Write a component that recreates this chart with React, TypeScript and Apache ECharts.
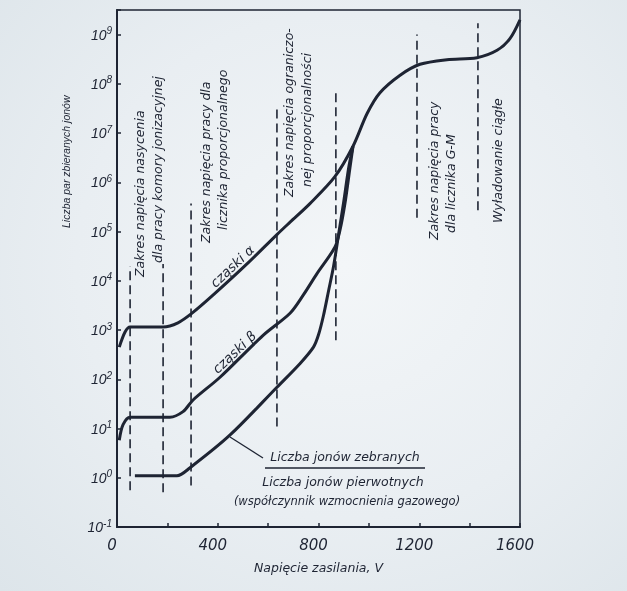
import React, { useEffect, useRef } from "react";
import * as echarts from "echarts";

const alphaVoltage = [9, 32, 52, 183, 242, 298, 381, 516, 635, 687, 766, 865, 937, 993, 1044, 1124, 1203, 1310, 1429, 1509, 1560, 1600];
const alphaPairs = [450, 910, 1150, 1150, 1400, 2200, 5100, 22000, 87000, 1.55e5, 3.7e5, 1.3e6, 5.4e6, 2.5e7, 6.6e7, 1.5e8, 2.5e8, 3.1e8, 3.4e8, 4.8e8, 8.3e8, 2.0e9];

const betaVoltage = [9, 24, 52, 210, 262, 302, 409, 580, 687, 738, 794, 865, 885, 905, 925, 937];
const betaPairs = [5.8, 12, 17, 17, 22, 38, 110, 780, 2200, 5000, 14000, 48000, 1.05e5, 3.7e5, 2.0e6, 5.4e6];

const gainVoltage = [71, 238, 290, 449, 635, 727, 780, 800, 820, 840, 860, 880, 900, 920, 937];
const gainFactor = [1.1, 1.1, 1.6, 7.4, 69, 210, 450, 800, 2000, 6300, 20000, 89000, 4.0e5, 2.0e6, 5.4e6];

// Dashed boundaries between working regions
const boundaryVoltage = [52, 183, 294, 635, 869, 1191, 1433];
const boundaryTop = [2.0e4, 2.2e4, 3.7e5, 3.6e7, 7.2e7, 1.0e9, 1.7e9];
const boundaryBottom = [0.56, 0.51, 0.7, 11, 620, 1.9e5, 2.7e5];

// Axis ticks
const xTickLabels = [0, 400, 800, 1200, 1600];
const yExponents = [-1, 0, 1, 2, 3, 4, 5, 6, 7, 8, 9];

const INK = "#1e2433";
const FONT = '"Liberation Sans", Arial, sans-serif';
const WIDE = '"DejaVu Sans", Verdana, sans-serif';

const toLog = (xs: number[], ys: number[]) => xs.map((x, i) => [x, Math.log10(ys[i])]);

export default function App() {
  const ref = useRef<HTMLDivElement>(null);

  useEffect(() => {
    if (!ref.current) return;
    const chart = echarts.init(ref.current, undefined, { renderer: "svg" });

    const curveStyle = { color: INK, width: 3 };
    const curve = (name: string, xs: number[], ys: number[]) => ({
      name,
      type: "line",
      data: toLog(xs, ys),
      showSymbol: false,
      smooth: 0.3,
      lineStyle: curveStyle,
      z: 3,
    });

    const boundarySeries = boundaryVoltage.map((v, i) => ({
      type: "line",
      data: [
        [v, Math.log10(boundaryBottom[i])],
        [v, Math.log10(boundaryTop[i])],
      ],
      showSymbol: false,
      lineStyle: { color: INK, width: 1.6, type: [9, 5] },
      z: 2,
    }));

    const rotText = (text: string, x: number, y: number, size = 12.5, family = WIDE) => ({
      type: "text",
      x,
      y,
      rotation: Math.PI / 2,
      style: {
        text,
        fill: INK,
        fontSize: size,
        fontStyle: "italic",
        fontFamily: family,
        align: "left",
        verticalAlign: "middle",
      },
    });
    const plainText = (text: string, x: number, y: number, size = 12, rotation = 0) => ({
      type: "text",
      x,
      y,
      rotation,
      style: {
        text,
        fill: INK,
        fontSize: size,
        fontStyle: "italic",
        fontFamily: WIDE,
        align: "center",
        verticalAlign: "middle",
      },
    });

    chart.setOption({
      animation: false,
      backgroundColor: "transparent",
      grid: {
        left: 117,
        top: 10,
        right: 107,
        bottom: 64,
        show: true,
        borderColor: INK,
        borderWidth: 1.5,
        containLabel: false,
        outerBoundsMode: "none",
      },
      xAxis: {
        type: "value",
        min: 0,
        max: 1600,
        interval: 200,
        name: "Napięcie zasilania, V",
        nameLocation: "middle",
        nameGap: 34,
        nameTextStyle: { color: INK, fontSize: 12.5, fontStyle: "italic", fontFamily: WIDE },
        axisLine: { onZero: false, lineStyle: { color: INK, width: 2 } },
        axisTick: { inside: true, length: 4, lineStyle: { color: INK, width: 1.5 } },
        splitLine: { show: false },
        axisLabel: {
          color: INK,
          fontSize: 15,
          fontStyle: "italic",
          fontFamily: WIDE,
          margin: 10,
          padding: [0, 10, 0, 0],
          formatter: (v: number) => (xTickLabels.includes(v) ? String(v) : ""),
        },
      },
      yAxis: {
        type: "value",
        min: -1,
        max: 9.5,
        interval: 1,
        axisLine: { onZero: false, lineStyle: { color: INK, width: 2 } },
        axisTick: { inside: true, length: 4, lineStyle: { color: INK, width: 1.5 } },
        splitLine: { show: false },
        axisLabel: {
          color: INK,
          margin: 5,
          formatter: (v: number) => (yExponents.includes(v) ? `{b|10}{s|${v}}` : ""),
          rich: {
            b: { fontSize: 14, fontStyle: "italic", fontFamily: FONT, color: INK },
            s: { fontSize: 10, fontStyle: "italic", fontFamily: FONT, color: INK, padding: [0, 0, 8, 0] },
          },
        },
      },
      series: [
        curve("cząski α", alphaVoltage, alphaPairs),
        curve("cząski β", betaVoltage, betaPairs),
        curve("współczynnik wzmocnienia gazowego", gainVoltage, gainFactor),
        ...boundarySeries,
      ],
      graphic: [
        rotText("Zakres napięcia nasycenia", 139, 277),
        rotText("dla pracy komory jonizacyjnej", 157, 263),
        rotText("Zakres napięcia pracy dla", 205, 243),
        rotText("licznika proporcjonalnego", 222, 230),
        rotText("Zakres napięcia ograniczo-", 288, 197),
        rotText("nej proporcjonalności", 306, 187),
        rotText("Zakres napięcia pracy", 433, 240),
        rotText("dla licznika G-M", 450, 233),
        rotText("Wyładowanie ciągłe", 497, 223),
        rotText("Liczba par zbieranych jonów", 66, 228, 10.5, FONT),
        plainText("cząski α", 232, 266, 13.5, 0.75),
        plainText("cząski β", 234, 352, 13.5, 0.76),
        plainText("Liczba jonów zebranych", 345, 456, 12.5),
        plainText("Liczba jonów pierwotnych", 343, 481, 12.5),
        plainText("(współczynnik wzmocnienia gazowego)", 347, 501, 11.5),
        { type: "line", shape: { x1: 265, y1: 468, x2: 425, y2: 468 }, style: { stroke: INK, lineWidth: 1.5 } },
        { type: "line", shape: { x1: 230, y1: 437, x2: 263, y2: 458 }, style: { stroke: INK, lineWidth: 1.3 } },
      ],
    });
    return () => chart.dispose();
  }, []);

  return (
    <div
      style={{
        position: "fixed",
        left: 0,
        top: 0,
        width: 627,
        height: 591,
        background: "radial-gradient(ellipse at 55% 45%, #f3f6f8 0%, #e9eef2 55%, #dde5ea 100%)",
      }}
    >
      <div ref={ref} style={{ width: 627, height: 591 }} />
    </div>
  );
}
